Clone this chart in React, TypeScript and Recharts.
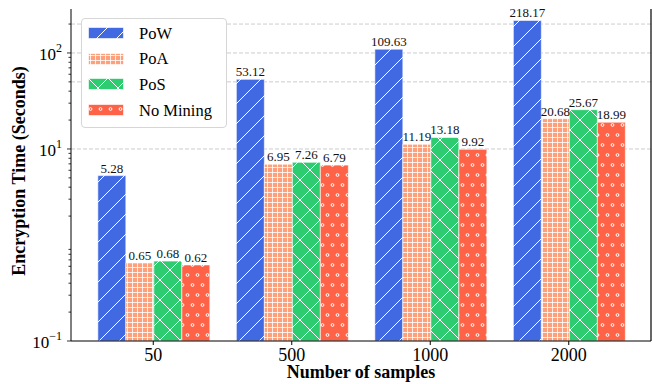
import { BarChart, Bar, XAxis, YAxis, CartesianGrid, Legend, LabelList } from "recharts";

const samples = ["50", "500", "1000", "2000"];
const powTimes = [5.28, 53.12, 109.63, 218.17];
const poaTimes = [0.65, 6.95, 11.19, 20.68];
const posTimes = [0.68, 7.26, 13.18, 25.67];
const noMiningTimes = [0.62, 6.79, 9.92, 18.99];

const yMajor: Record<number, string> = { 0.1: "\u22121", 10: "1", 100: "2" };
const yMinor = [0.2, 0.3, 0.4, 0.5, 0.6, 0.7, 0.8, 0.9, 2, 3, 4, 5, 6, 7, 8, 9, 20, 30, 40, 50, 60, 70, 80, 90, 200];
const yTicks = [0.1, 10, 100, ...yMinor];
const gridValues = [10, 50, 100, 200];
const yDomain = [0.1, 287];

const data = samples.map((s, i) => ({
  samples: s,
  pow: powTimes[i],
  poa: poaTimes[i],
  pos: posTimes[i],
  none: noMiningTimes[i],
}));

const SERIES = [
  { key: "pow", name: "PoW", color: "#4169E1", pattern: "hatch-pow" },
  { key: "poa", name: "PoA", color: "#FFA07A", pattern: "hatch-poa" },
  { key: "pos", name: "PoS", color: "#2ECC71", pattern: "hatch-pos" },
  { key: "none", name: "No Mining", color: "#FF6347", pattern: "hatch-none" },
];

const FONT = "Liberation Serif, Times New Roman, serif";

const Patterns = () => (
  <defs>
    <pattern id="hatch-pow" patternUnits="userSpaceOnUse" width={20} height={20}>
      <rect width={20} height={20} fill="#4169E1" />
      <path d="M-5,5 L5,-5 M0,20 L20,0 M15,25 L25,15" stroke="#fff" strokeWidth={1} />
    </pattern>
    <pattern id="hatch-poa" patternUnits="userSpaceOnUse" width={5} height={5}>
      <rect width={5} height={5} fill="#FFA07A" />
      <path d="M0,2.5 H5 M2.5,0 V5" stroke="#fff" strokeWidth={0.9} strokeOpacity={0.9} />
    </pattern>
    <pattern id="hatch-pos" patternUnits="userSpaceOnUse" width={20} height={20}>
      <rect width={20} height={20} fill="#2ECC71" />
      <path
        d="M-5,5 L5,-5 M0,20 L20,0 M15,25 L25,15 M-5,15 L5,25 M0,0 L20,20 M15,-5 L25,5"
        stroke="#fff"
        strokeWidth={1}
      />
    </pattern>
    <pattern id="hatch-none" patternUnits="userSpaceOnUse" width={10} height={20}>
      <rect width={10} height={20} fill="#FF6347" />
      <circle cx={2.5} cy={5} r={1.4} fill="none" stroke="#fff" strokeWidth={1} />
      <circle cx={7.5} cy={15} r={1.4} fill="none" stroke="#fff" strokeWidth={1} />
    </pattern>
  </defs>
);

const YTick = (props: any) => {
  const { x, y, payload } = props;
  const exp = yMajor[payload.value];
  const major = exp !== undefined;
  return (
    <g>
      <line x1={x - (major ? 4 : 2.5)} x2={x} y1={y} y2={y} stroke="#000" strokeWidth={0.8} />
      {major && (
        <text x={x - 9} y={y + 7} textAnchor="end" fontSize={17} fill="#000" fontFamily={FONT}>
          10
          <tspan dy={-8} fontSize={12}>
            {exp}
          </tspan>
        </text>
      )}
    </g>
  );
};

const LegendBox = () => (
  <div
    style={{
      background: "#fff",
      border: "1px solid #d6d6d6",
      borderRadius: 4,
      width: 146,
      boxSizing: "border-box",
      padding: "1px 0 4px 6px",
      fontFamily: FONT,
    }}
  >
    {SERIES.map((s) => (
      <div key={s.key} style={{ display: "flex", alignItems: "center", height: 25.7 }}>
        <svg width={36} height={12} style={{ display: "block" }}>
          <rect x={0.5} y={0.5} width={35} height={11} fill={`url(#${s.pattern})`} stroke="#fff" strokeOpacity={0.6} />
        </svg>
        <span style={{ marginLeft: 15, fontSize: 16.5, lineHeight: 1, color: "#000", marginTop: 2 }}>{s.name}</span>
      </div>
    ))}
  </div>
);

export default function App() {
  return (
    <div style={{ position: "absolute", left: 0, top: 0, fontFamily: FONT, background: "#fff" }}>
      <BarChart
        width={652}
        height={384}
        data={data}
        margin={{ top: 9, right: 0, bottom: 0, left: 0 }}
        barCategoryGap="10%"
        barGap={0}
        style={{ fontFamily: FONT }}
      >
        <Patterns />
        <CartesianGrid vertical={false} horizontalValues={gridValues} stroke="#cccccc" strokeDasharray="4 2" />
        <XAxis
          dataKey="samples"
          height={43}
          padding={{ left: 13, right: 13 }}
          tickSize={4}
          tickMargin={3}
          tick={{ fontSize: 18, fill: "#000", fontFamily: FONT }}
          tickLine={{ stroke: "#000" }}
          axisLine={{ stroke: "#000" }}
          label={{
            value: "Number of samples",
            position: "insideBottom",
            offset: 6,
            style: { fontWeight: "bold", fontSize: 18, fill: "#000", fontFamily: FONT },
          }}
        />
        <XAxis
          xAxisId="top"
          orientation="top"
          dataKey="samples"
          height={0}
          tick={false}
          tickLine={false}
          axisLine={{ stroke: "#000" }}
        />
        <YAxis
          type="number"
          scale="log"
          domain={yDomain}
          allowDataOverflow
          ticks={yTicks}
          interval={0}
          width={71}
          tickLine={false}
          tickSize={0}
          tickMargin={0}
          tick={<YTick />}
          axisLine={{ stroke: "#000" }}
          label={{
            value: "Encryption Time (Seconds)",
            angle: -90,
            position: "insideLeft",
            offset: 19,
            dy: -4,
            style: { fontWeight: "bold", fontSize: 18, fill: "#000", textAnchor: "middle", fontFamily: FONT },
          }}
        />
        <YAxis
          yAxisId="right"
          orientation="right"
          type="number"
          scale="log"
          domain={yDomain}
          allowDataOverflow
          width={1}
          tick={false}
          tickLine={false}
          axisLine={{ stroke: "#000", strokeWidth: 1.2 }}
        />
        <Legend
          layout="vertical"
          align="center"
          verticalAlign="middle"
          wrapperStyle={{ left: 81, top: 18, width: 146 }}
          content={() => <LegendBox />}
        />
        {SERIES.map((s) => (
          <Bar
            key={s.key}
            dataKey={s.key}
            name={s.name}
            fill={`url(#${s.pattern})`}
            stroke="#fff"
            strokeOpacity={0.6}
            strokeWidth={1}
            isAnimationActive={false}
          >
            <LabelList
              dataKey={s.key}
              position="top"
              offset={3}
              formatter={(v: any) => Number(v).toFixed(2)}
              fontSize={13}
              fontFamily={FONT}
              fill="#111"
            />
          </Bar>
        ))}
      </BarChart>
    </div>
  );
}
